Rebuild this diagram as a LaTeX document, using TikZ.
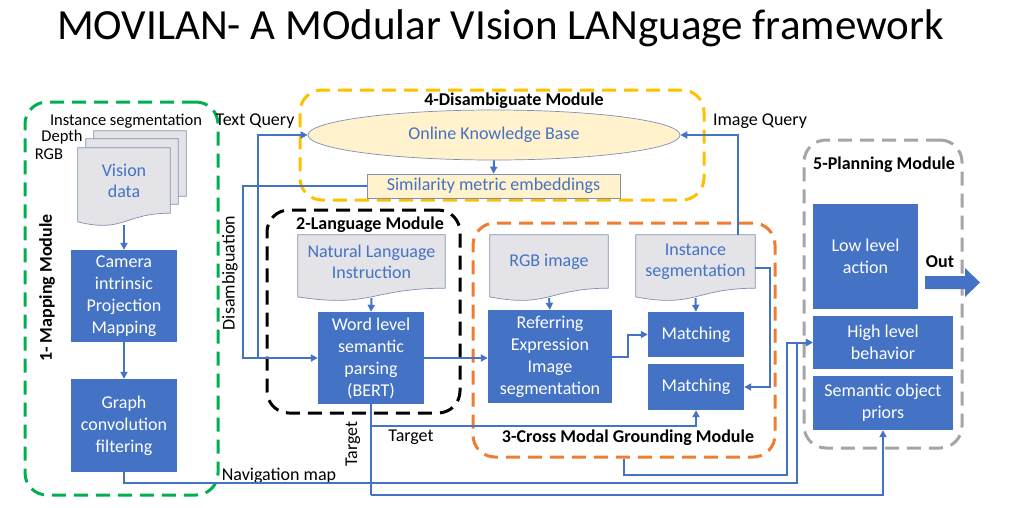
\documentclass[tikz,border=0pt]{standalone}
\usepackage{fontspec}
\setmainfont{Carlito}
\usetikzlibrary{arrows.meta,shapes.geometric,calc}
\definecolor{boxblue}{HTML}{4472C4}
\definecolor{docfill}{HTML}{E4E4E8}
\definecolor{docline}{HTML}{8090B0}
\definecolor{kbfill}{HTML}{FFF2CC}
\definecolor{mgreen}{HTML}{00B050}
\definecolor{myellow}{HTML}{FFC000}
\definecolor{morange}{HTML}{ED7D31}
\definecolor{mgray}{HTML}{A5A5A5}
\pgfdeclarelayer{background}
\pgfsetlayers{background,main}
\newcommand\fsz[2]{\fontsize{#1}{#2}\selectfont}
\newcommand\docpath[1]{\path[docsh] (#1.north west) -- (#1.north east) -- (#1.south east)
  .. controls (#1.south) and ([yshift=-20pt]#1.south) .. ([yshift=-8.7pt]#1.south west) -- cycle;}
\tikzset{
  blk/.style={fill=boxblue, text=white, align=center, inner sep=0pt, font=\fsz{18}{22}},
  docn/.style={align=center, inner sep=0pt, text=boxblue, font=\fsz{18}{21}},
  docsh/.style={fill=docfill, draw=docline, line width=0.7pt},
  modbox/.style={line width=3pt, dash pattern=on 14pt off 8pt, rounded corners=22pt, inner sep=0pt},
  modlbl/.style={font=\bfseries\fsz{18}{21}},
  lbl/.style={font=\fsz{18}{21}},
  conn/.style={draw=boxblue, line width=2pt, -{Triangle[length=7pt,width=7pt]}},
  plainc/.style={draw=boxblue, line width=2pt},
}
\begin{document}
\begin{tikzpicture}[x=1pt,y=-1pt]
\useasboundingbox (0,0) rectangle (1018,507);
\node[font=\fsz{43}{50}, anchor=base] (title) at (500.5,39) {MOVILAN- A MOdular VIsion LANguage framework};

% ---------- module frames ----------
\begin{pgfonlayer}{background}
\node[modbox, draw=mgreen, minimum width=193pt, minimum height=393pt] (mapmod) at (121.5,298.5) {};
\node[modbox, draw=myellow, minimum width=404pt, minimum height=110pt] (dismod) at (502,145) {};
\node[modbox, draw=black, minimum width=193pt, minimum height=203pt] (langmod) at (363.5,311.5) {};
\node[modbox, draw=morange, minimum width=302pt, minimum height=234pt] (crossmod) at (624,340) {};
\node[modbox, draw=mgray, minimum width=158pt, minimum height=308pt] (planmod) at (883,294) {};
\end{pgfonlayer}

\node[modlbl, rotate=90] (maplbl) at (47,288) {1- Mapping Module};
\node[modlbl] (dislbl) at (514,101) {4-Disambiguate Module};
\node[modlbl] (langlbl) at (370,225) {2-Language Module};
\node[modlbl] (crosslbl) at (628,438) {3-Cross Modal Grounding Module};
\node[modlbl] (planlbl) at (884,165) {5-Planning Module};

% ---------- mapping module ----------
\node[docn, minimum width=92pt, minimum height=65pt] (vd3) at (140,163.5) {};
\node[docn, minimum width=92pt, minimum height=65pt] (vd2) at (132,171.5) {};
\node[docn, minimum width=92pt, minimum height=65pt] (vd) at (124,180.5) {Vision\\data};
\begin{pgfonlayer}{background}
\docpath{vd3}\docpath{vd2}\docpath{vd}
\end{pgfonlayer}
\node[font=\fsz{16.5}{20}] (linst) at (126,121) {Instance segmentation};
\node[font=\fsz{16.5}{20}] (ldepth) at (62,137) {Depth};
\node[font=\fsz{16.5}{20}] (lrgb) at (49,154) {RGB};
\node[blk, minimum width=106pt, minimum height=92pt] (cam) at (124,296) {Camera\\intrinsic\\Projection\\Mapping};
\node[blk, minimum width=106pt, minimum height=93pt] (graph) at (124,425.5) {Graph\\convolution\\filtering};

% ---------- disambiguate module ----------
\node[ellipse, fill=kbfill, draw=docline, line width=0.7pt, minimum width=372pt, minimum height=50pt, inner sep=0pt, text=boxblue, font=\fsz{18}{22}] (kb) at (494,135) {Online Knowledge Base};
\node[fill=kbfill, draw=docline, line width=0.7pt, minimum width=253pt, minimum height=24pt, inner sep=0pt, text=boxblue, font=\fsz{18}{22}] (sim) at (493.5,186) {Similarity metric embeddings};

% ---------- language module ----------
\node[docn, minimum width=147pt, minimum height=53pt] (nl) at (371.5,261.5) {Natural Language\\Instruction};
\node[blk, minimum width=106pt, minimum height=92pt] (word) at (371,358) {Word level\\semantic\\parsing\\(BERT)};

% ---------- cross modal module ----------
\node[docn, minimum width=118pt, minimum height=53pt] (rgb) at (549,261.5) {RGB image};
\node[docn, minimum width=119pt, minimum height=53pt] (inst) at (695.5,261.5) {Instance\\segmentation};
\begin{pgfonlayer}{background}
\docpath{nl}\docpath{rgb}\docpath{inst}
\end{pgfonlayer}
\node[blk, minimum width=124pt, minimum height=93pt] (ref) at (550,356.5) {Referring\\Expression\\Image\\segmentation};
\node[blk, minimum width=96pt, minimum height=45pt] (m1) at (696,334.5) {Matching};
\node[blk, minimum width=96pt, minimum height=46pt] (m2) at (696,387) {Matching};

% ---------- planning module ----------
\node[blk, minimum width=105pt, minimum height=105pt] (low) at (865.5,256.5) {Low level\\action};
\node[blk, minimum width=140pt, minimum height=53pt] (high) at (883,342.5) {High level\\behavior};
\node[blk, minimum width=140pt, minimum height=54pt] (sem) at (883,403) {Semantic object\\priors};
\fill[boxblue] (925,276) -- (965,276) -- (965,268) -- (980,282.5) -- (965,297) -- (965,289) -- (925,289) -- cycle;
\node[modlbl, anchor=base] (outlbl) at (940,267) {Out};

% ---------- connector labels ----------
\node[lbl] (ltq) at (255,121) {Text Query};
\node[lbl] (liq) at (760,121) {Image Query};
\node[lbl, rotate=90] (ldis) at (230,273) {Disambiguation};
\node[lbl] (ltg1) at (411,437) {Target};
\node[lbl, rotate=90] (ltg2) at (353,444) {Target};
\node[lbl] (lnav) at (279,476) {Navigation map};

% ---------- connectors ----------
\coordinate (navR) at (797,483);
\coordinate (crossR) at (787,475);
\coordinate (dis) at (243,358);
\coordinate (tq) at (258,358);
\coordinate (tg1) at (371,426);
\coordinate (tg2) at (371,495);
\coordinate (iq) at (737.5,235);

\draw[conn] ([yshift=-12pt]vd.south) -- (cam.north);
\draw[conn] (cam.south) -- (graph.north);
\draw[conn] (graph.south) |- (navR) |- (high.west);
\draw[conn] (crossmod.south) |- (crossR) |- (high.west);
\draw[conn] (sim.west) -| (dis) -- (word.west);
\draw[conn] (tq) |- (kb.west);
\draw[conn] (word.east) -- (word.east -| ref.west);
\draw[conn] ([yshift=-10pt]nl.south) -- (word.north);
\draw[conn] ([yshift=-10pt]rgb.south) -- (ref.north);
\draw[conn] ([yshift=-10pt]inst.south) -- (m1.north);
\draw[conn] (ref.east) -- ++(16,0) |- (m1.west);
\draw[conn] ([yshift=-6pt]inst.east) -- ++(15,0) |- (m2.east);
\draw[conn] (iq) |- (kb.east);
\draw[conn] (kb.south) -- (sim.north);
\draw[plainc] (word.south) -- (tg2);
\draw[conn] (tg1) -| (m2.south);
\draw[conn] (tg2) -| (sem.south);
\end{tikzpicture}
\end{document}
